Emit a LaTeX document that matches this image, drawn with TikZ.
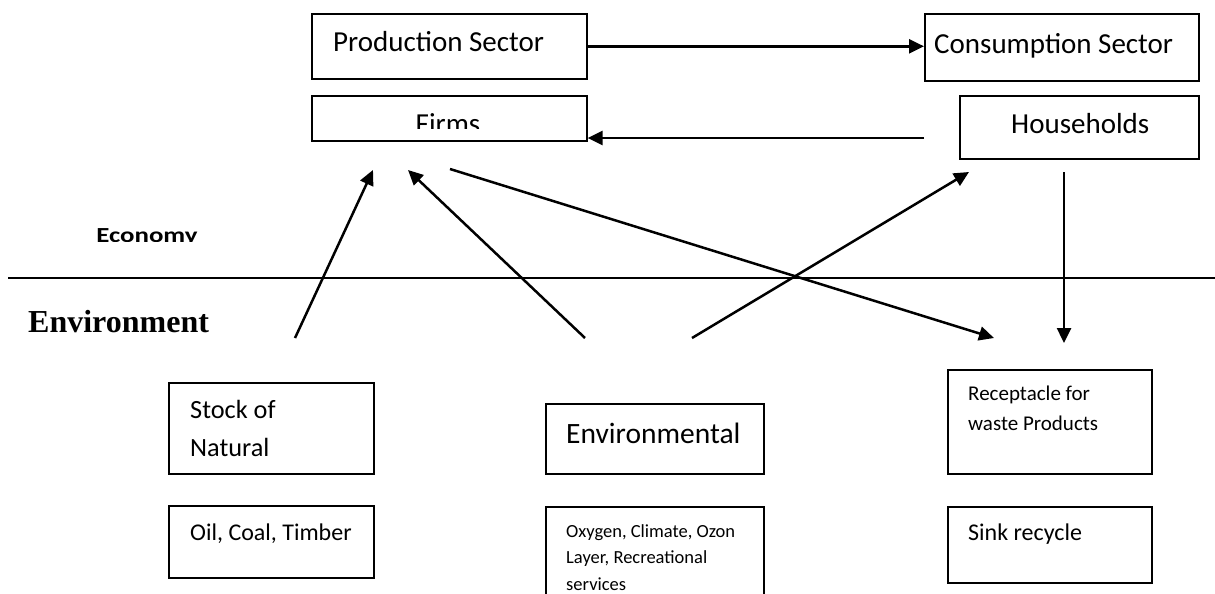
\documentclass[tikz,border=0pt]{standalone}
\usepackage{fontspec}
\setmainfont{Carlito}
\newfontfamily\timesbf{Liberation Serif}
\usetikzlibrary{arrows.meta}
\begin{document}
\begin{tikzpicture}[x=1pt,y=-1pt,
  box/.style={draw,line width=1.6pt,inner sep=0pt,anchor=north west},
  lbl/.style={inner sep=0pt,anchor=base west},
  arr/.style={line width=2.5pt,-{Triangle[length=15pt,width=14pt]}},
  big/.style={font=\fontsize{29}{34}\selectfont},
  small/.style={font=\fontsize{18.5}{24}\selectfont}]
\clip (0,0) rectangle (1215,594);
\fill[white] (0,0) rectangle (1215,594);
% boxes
\node[box,minimum width=275pt,minimum height=65pt] (prod) at (311,13) {};
\node[box,minimum width=275pt,minimum height=45pt] (firms) at (311,95) {};
\node[box,minimum width=274pt,minimum height=67pt] (cons) at (924,13) {};
\node[box,minimum width=239pt,minimum height=63pt] (hh) at (959,95) {};
\node[box,minimum width=205pt,minimum height=91pt] (stock) at (168,382) {};
\node[box,minimum width=205pt,minimum height=72pt] (oil) at (168,505) {};
\node[box,minimum width=218pt,minimum height=70pt] (envb) at (545,403) {};
\node[box,minimum width=218pt,minimum height=100pt] (oxy) at (545,506) {};
\node[box,minimum width=204pt,minimum height=104pt] (rec) at (947,369) {};
\node[box,minimum width=204pt,minimum height=76pt] (sink) at (947,506) {};
% texts
\node[lbl,big] (tprod) at (333,52) {Production Sector};
\node[lbl,big] (tcons) at (934,53) {Consumption Sector};
\node[lbl,big] (thh) at (1011,133) {Households};
\begin{scope}
\clip (312,96) rectangle (585,128);
\node[big,inner sep=0pt,anchor=base] (tfirms) at (448,133) {Firms};
\end{scope}
\begin{scope}
\clip (80,215) rectangle (220,241);
\node[lbl,xscale=1.25,font=\fontsize{21.5}{26}\selectfont\bfseries] (teco) at (96,242) {Economy};
\end{scope}
\node[lbl,font=\fontsize{32}{38}\selectfont\timesbf\bfseries] (tenv) at (28,332) {Environment};
\node[lbl,font=\fontsize{26.3}{32}\selectfont] (tst1) at (190,418) {Stock of};
\node[lbl,font=\fontsize{26.3}{32}\selectfont] (tst2) at (190,456) {Natural};
\node[lbl,font=\fontsize{24}{30}\selectfont] (toil) at (190,540) {Oil, Coal, Timber};
\node[lbl,font=\fontsize{29.5}{34}\selectfont] (tenvb) at (566,443) {Environmental};
\node[lbl,small] (tox1) at (566,537) {Oxygen, Climate, Ozon};
\node[lbl,small] (tox2) at (566,563) {Layer, Recreational};
\node[lbl,small] (tox3) at (566,590) {services};
\node[lbl,font=\fontsize{21}{26}\selectfont] (trec1) at (968,400) {Receptacle for};
\node[lbl,font=\fontsize{21}{26}\selectfont] (trec2) at (968,430) {waste Products};
\node[lbl,font=\fontsize{24}{28}\selectfont] (tsink) at (968,540) {Sink recycle};
% divider
\coordinate (divl) at (8,278);
\coordinate (divr) at (1215,278);
\draw[line width=2pt] (divl) -- (divr);
% connectors
\draw[arr] (prod.east) -- (prod.east -| cons.west);
\coordinate (hhs) at (924,138);
\draw[arr] (hhs) -- (hhs -| firms.east);
\coordinate (s1) at (295,338); \coordinate (e1) at (373,170);
\coordinate (s2) at (585,338); \coordinate (e2) at (408,170);
\coordinate (s3) at (692,338); \coordinate (e3) at (969,172);
\coordinate (s4) at (450,169); \coordinate (e4) at (994,338);
\coordinate (s5) at (1064,172); \coordinate (e5) at (1064,343);
\draw[arr] (s1) -- (e1);
\draw[arr] (s2) -- (e2);
\draw[arr] (s3) -- (e3);
\draw[arr] (s4) -- (e4);
\draw[arr] (s5) -- (e5);
\end{tikzpicture}
\end{document}
